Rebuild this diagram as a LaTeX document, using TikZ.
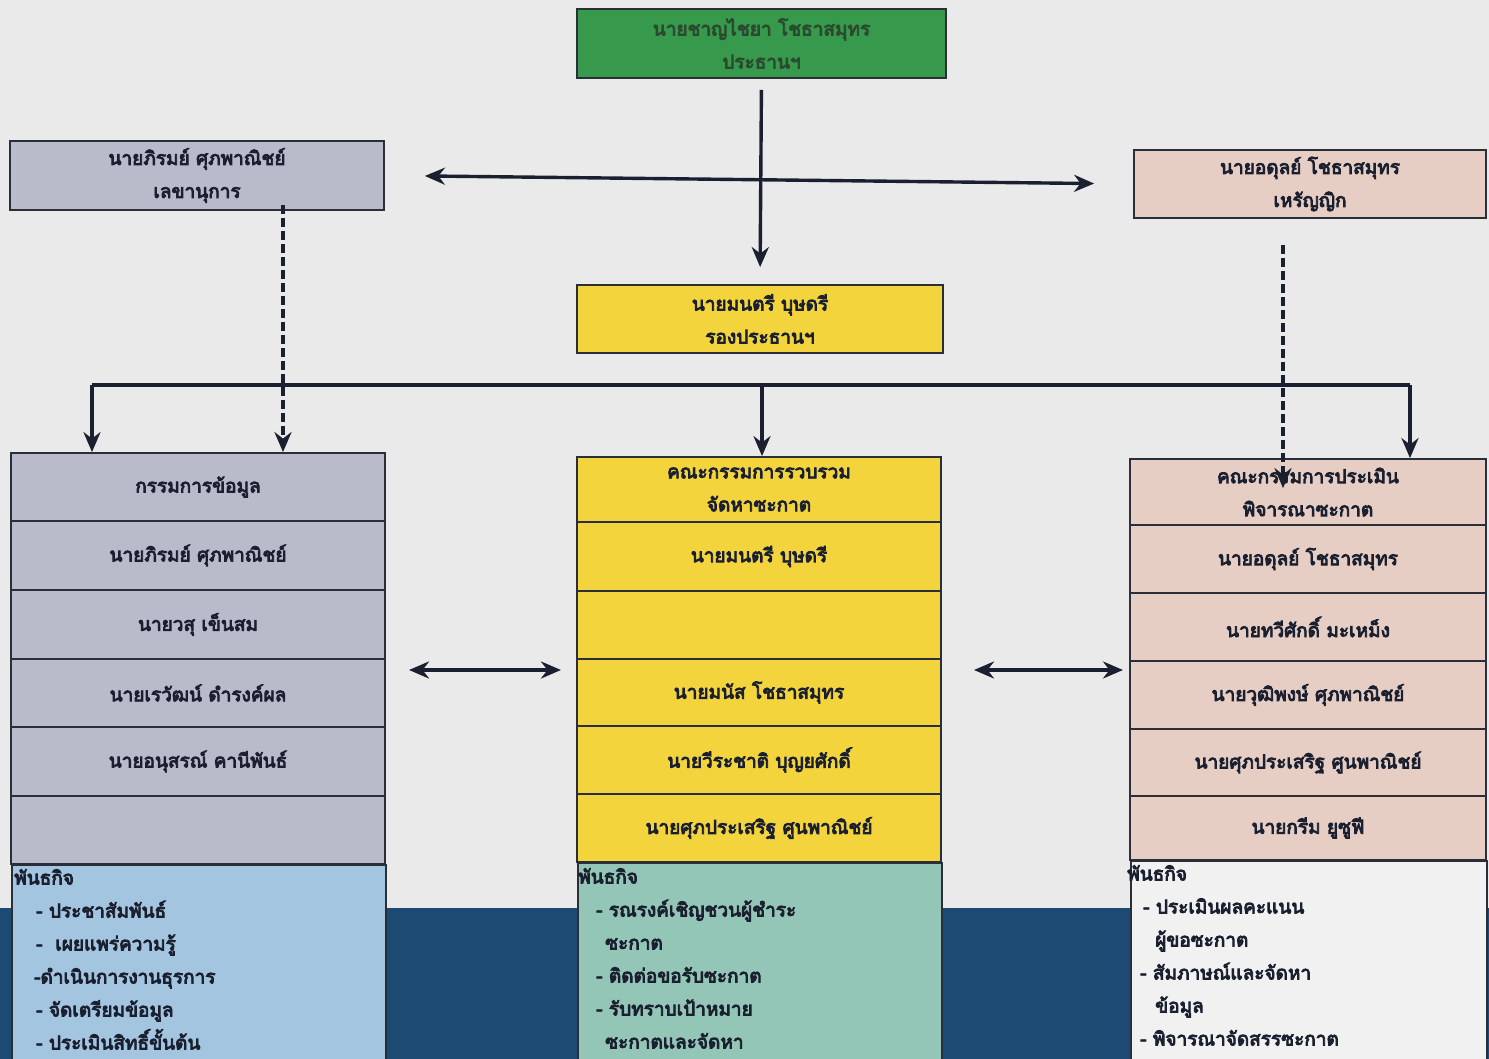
\documentclass[tikz,border=0pt]{standalone}
\usepackage{fontspec}
\newfontfamily\thaifont[Script=Thai,FakeBold=4.5]{Loma}
\usetikzlibrary{arrows.meta}
\definecolor{paper}{HTML}{EAEAEA}
\definecolor{navyband}{HTML}{1D4A72}
\definecolor{greenbox}{HTML}{36994B}
\definecolor{greytxt}{HTML}{2B4A30}
\definecolor{lav}{HTML}{B9BBCB}
\definecolor{pinkbox}{HTML}{E6CEC4}
\definecolor{yellowbox}{HTML}{F3D43D}
\definecolor{lblue}{HTML}{A3C5E0}
\definecolor{tealbox}{HTML}{93C6B7}
\definecolor{whitebox}{HTML}{F1F1F1}
\definecolor{ink}{HTML}{1A2030}
\definecolor{border}{HTML}{2A2E38}
\begin{document}
\begin{tikzpicture}[x=1pt,y=-1pt,
  txt/.style={font=\thaifont\fontsize{19}{33}\selectfont, text=ink},
  box/.style={draw=border, line width=1.8pt, rectangle, inner sep=0pt, align=center, txt},
  lcol/.style={box, fill=lav, minimum width=374pt},
  mcol/.style={box, fill=yellowbox, minimum width=364pt},
  rcol/.style={box, fill=pinkbox, minimum width=356pt},
  mission/.style={draw=border, line width=1.8pt, rectangle, inner sep=0pt, anchor=north west},
  mtext/.style={txt, anchor=north west, align=left, inner sep=0pt},
  conn/.style={draw=ink, line width=3.4pt, -{Stealth[length=20pt,width=17pt]}},
  dconn/.style={conn, {Stealth[length=20pt,width=17pt]}-{Stealth[length=20pt,width=17pt]}},
  bus/.style={draw=ink, line width=3.4pt},
  dashconn/.style={conn, dash pattern=on 9pt off 4pt}
]
\useasboundingbox (0,0) rectangle (1489,1059);
\fill[paper] (0,0) rectangle (1489,1059);
\fill[navyband] (0,908) rectangle (1489,1059);

% top level
\node[box, fill=greenbox, minimum width=369pt, minimum height=69pt, text=greytxt] (chair) at (761.5,43.5) {นายชาญไชยา โชธาสมุทร\\ประธานฯ};
\node[box, fill=lav, minimum width=374pt, minimum height=69pt] (sec) at (197,175.5) {นายภิรมย์ ศุภพาณิชย์\\เลขานุการ};
\node[box, fill=pinkbox, minimum width=352pt, minimum height=68pt] (treas) at (1310,184) {นายอดุลย์ โชธาสมุทร\\เหรัญญิก};
\node[box, fill=yellowbox, minimum width=366pt, minimum height=68pt] (vice) at (760,319) {นายมนตรี บุษดรี\\รองประธานฯ};

% left column
\node[lcol, minimum height=68pt] (l1) at (198,487) {กรรมการข้อมูล};
\node[lcol, minimum height=69pt] (l2) at (198,555.5) {นายภิรมย์ ศุภพาณิชย์};
\node[lcol, minimum height=69pt] (l3) at (198,624.5) {นายวสุ เข็นสม};
\node[lcol, minimum height=68pt] (l4) at (198,693) {นายเรวัฒน์ ดำรงค์ผล};
\node[lcol, minimum height=69pt] (l5) at (198,761.5) {นายอนุสรณ์ คานีพันธ์};
\node[lcol, minimum height=68pt] (l6) at (198,830) {};
\node[mission, fill=lblue, minimum width=374pt, minimum height=210pt] (lm) at (11,864) {};
\node[mtext] (lmt) at (14,869) {พันธกิจ\\
\hspace*{22pt}- ประชาสัมพันธ์\\
\hspace*{22pt}-\ \ เผยแพร่ความรู้\\
\hspace*{20pt}-ดำเนินการงานธุรการ\\
\hspace*{22pt}- จัดเตรียมข้อมูล\\
\hspace*{22pt}- ประเมินสิทธิ์ขั้นต้น};

% middle column
\node[mcol, minimum height=65pt] (m1) at (759,489.5) {คณะกรรมการรวบรวม\\จัดหาซะกาต};
\node[mcol, minimum height=69pt] (m2) at (759,556.5) {นายมนตรี บุษดรี};
\node[mcol, minimum height=68pt] (m3) at (759,625) {};
\node[mcol, minimum height=67pt] (m4) at (759,692.5) {นายมนัส โชธาสมุทร};
\node[mcol, minimum height=68pt] (m5) at (759,760) {นายวีระชาติ บุญยศักดิ์};
\node[mcol, minimum height=68pt] (m6) at (759,828) {นายศุภประเสริฐ ศูนพาณิชย์};
\node[mission, fill=tealbox, minimum width=364pt, minimum height=210pt] (mm) at (577,862) {};
\node[mtext] (mmt) at (578,868) {พันธกิจ\\
\hspace*{18pt}- รณรงค์เชิญชวนผู้ชำระ\\
\hspace*{27pt}ซะกาต\\
\hspace*{18pt}- ติดต่อขอรับซะกาต\\
\hspace*{18pt}- รับทราบเป้าหมาย\\
\hspace*{27pt}ซะกาตและจัดหา};

% right column
\node[rcol, minimum height=66pt] (r1) at (1308,492) {คณะกรรมการประเมิน\\พิจารณาซะกาต};
\node[rcol, minimum height=68pt] (r2) at (1308,559) {นายอดุลย์ โชธาสมุทร};
\node[rcol, minimum height=68pt] (r3) at (1308,627) {นายทวีศักดิ์ มะเหม็ง};
\node[rcol, minimum height=68pt] (r4) at (1308,695) {นายวุฒิพงษ์ ศุภพาณิชย์};
\node[rcol, minimum height=67pt] (r5) at (1308,762.5) {นายศุภประเสริฐ ศูนพาณิชย์};
\node[rcol, minimum height=64pt] (r6) at (1308,828) {นายกรีม ยูซูฟี};
\node[mission, fill=whitebox, minimum width=356pt, minimum height=210pt] (rm) at (1130,860) {};
\node[mtext] (rmt) at (1127,865) {พันธกิจ\\
\hspace*{16pt}- ประเมินผลคะแนน\\
\hspace*{28pt}ผู้ขอซะกาต\\
\hspace*{13pt}- สัมภาษณ์และจัดหา\\
\hspace*{28pt}ข้อมูล\\
\hspace*{13pt}- พิจารณาจัดสรรซะกาต};

% connectors
\draw[conn, shorten <=11pt, shorten >=17pt] (chair.south) -- (vice.north);
\draw[dconn, shorten <=40pt, shorten >=39pt] (sec.east) -- (treas.west);

\coordinate (busL) at (92,385);
\coordinate (busM) at (762,385);
\coordinate (busR) at (1410,385);
\draw[bus] (busL) -- (busR);
\draw[conn] (busL) -- (busL |- l1.north);
\draw[conn] (busM) -- (busM |- m1.north);
\draw[conn] (busR) -- (busR |- r1.north);

\coordinate (dsL) at (283,205);
\coordinate (dsR) at (1283,245);
\draw[dashconn] (dsL) -- (dsL |- l1.north);
\draw[dashconn] (dsR) -- ([yshift=-30pt]dsR |- r1.north);

\coordinate (lmA) at (385,670);
\coordinate (mlA) at (577,670);
\coordinate (mrA) at (941,670);
\coordinate (rlA) at (1130,670);
\draw[dconn, shorten <=24pt, shorten >=16pt] (lmA) -- (mlA);
\draw[dconn, shorten <=33pt, shorten >=7pt] (mrA) -- (rlA);
\end{tikzpicture}
\end{document}
